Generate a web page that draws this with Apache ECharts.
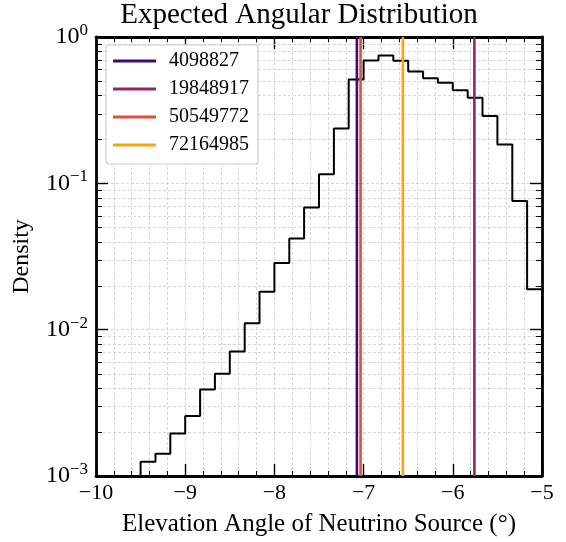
<!DOCTYPE html>
<html><head><meta charset="utf-8">
<script src="https://cdn.jsdelivr.net/npm/echarts@6/dist/echarts.min.js"></script>
<style>html,body{margin:0;padding:0;background:#fff}#c{width:566px;height:542px}</style>
</head><body><div id="c"></div>
<script>
// Histogram bin edges (degrees) and density per bin
const binEdges = [-9.500, -9.333, -9.167, -9.000, -8.833, -8.667, -8.500, -8.333, -8.167, -8.000,
  -7.833, -7.667, -7.500, -7.333, -7.167, -7.000, -6.833, -6.667, -6.500, -6.333,
  -6.167, -6.000, -5.833, -5.667, -5.500, -5.333, -5.167, -5.000];
const density = [0.00125, 0.00142, 0.00195, 0.00257, 0.00390, 0.00499, 0.00708, 0.01106, 0.01816,
  0.0285, 0.0420, 0.0683, 0.1152, 0.237, 0.512, 0.692, 0.746, 0.689, 0.580, 0.522,
  0.486, 0.433, 0.384, 0.288, 0.1845, 0.0757, 0.0189];
// Source lines
const sourceNames = ['4098827', '19848917', '50549772', '72164985'];
const sourceAngles = [-7.075, -5.758, -7.034, -6.56];
const sourceColors = ['#420a68', '#932667', '#dd513a', '#fca50a'];
// Axis ticks
const xTicks = [-10, -9, -8, -7, -6, -5];
const yTicks = [0.001, 0.01, 0.1, 1];
const yMinorTicks = [0.002, 0.003, 0.004, 0.005, 0.006, 0.007, 0.008, 0.009,
  0.02, 0.03, 0.04, 0.05, 0.06, 0.07, 0.08, 0.09,
  0.2, 0.3, 0.4, 0.5, 0.6, 0.7, 0.8, 0.9];

const FF = "'Liberation Serif', 'DejaVu Serif', serif";
const gridLine = {color: '#cccccc', width: 0.8, type: [3, 2]};
const frame = {show: true, onZero: false, lineStyle: {color: '#000', width: 2.8}};
const majorTick = {show: true, inside: true, length: 12, lineStyle: {color: '#000', width: 1.4}};
const minorTick = {show: true, splitNumber: 5, length: 5, lineStyle: {color: '#000', width: 1}};

const histData = [[binEdges[0], yTicks[0]]];
for (let i = 0; i < binEdges.length; i++) {
  const v = i < density.length ? density[i] : density[density.length - 1];
  histData.push([binEdges[i], v]);
}
histData.push([binEdges[binEdges.length - 1], yTicks[0]]);

const fmtMinus = v => (v < 0 ? '\u2212' : '') + Math.abs(v);

const series = [
  {
    type: 'custom', xAxisIndex: 0, yAxisIndex: 0, silent: true, z: 1, clip: false,
    data: yMinorTicks.map(v => [xTicks[0], v]),
    renderItem: (params, api) => {
      const p = api.coord([api.value(0), api.value(1)]);
      const cs = params.coordSys;
      const y = Math.round(p[1]) + 0.5;
      return {type: 'group', children: [
        {type: 'line', shape: {x1: cs.x + 2, y1: y, x2: cs.x + cs.width - 2, y2: y},
         style: {stroke: gridLine.color, lineWidth: gridLine.width, lineDash: [3, 2]}},
        {type: 'line', shape: {x1: cs.x, y1: y, x2: cs.x + 6, y2: y}, style: {stroke: '#000', lineWidth: 1}},
        {type: 'line', shape: {x1: cs.x + cs.width - 6, y1: y, x2: cs.x + cs.width, y2: y}, style: {stroke: '#000', lineWidth: 1}}
      ]};
    }
  },
  {
    type: 'line', name: 'hist', data: histData, step: 'end', symbol: 'none', z: 3,
    lineStyle: {color: '#000', width: 2}, itemStyle: {color: '#000'}, silent: true
  }
];
sourceNames.forEach((n, i) => {
  series.push({
    type: 'line', name: n, symbol: 'none', z: 4, silent: true,
    data: [[sourceAngles[i], yTicks[0]], [sourceAngles[i], yTicks[yTicks.length - 1]]],
    color: sourceColors[i],
    lineStyle: {color: sourceColors[i], width: 2.6},
    itemStyle: {color: sourceColors[i]}
  });
});

const chart = echarts.init(document.getElementById('c'), null, {renderer: 'canvas'});
chart.setOption({
  animation: false,
  backgroundColor: '#fff',
  title: {
    text: 'Expected Angular Distribution', left: 294, top: -4, textAlign: 'center',
    textStyle: {fontFamily: FF, fontSize: 29, fontWeight: 'normal', color: '#000'}
  },
  legend: {
    data: sourceNames, orient: 'vertical', left: 106, top: 45,
    padding: [6, 9, 9, 7], itemGap: 8, itemWidth: 43, itemHeight: 3, icon: 'rect',
    backgroundColor: '#fff', borderColor: '#cccccc', borderWidth: 1.2, borderRadius: 3,
    textStyle: {fontFamily: FF, fontSize: 20, color: '#000', lineHeight: 20, padding: [0, 0, 0, 8]}
  },
  grid: {left: 96, right: 24, top: 37, bottom: 65, containLabel: false},
  xAxis: [
    {
      type: 'value', min: -10, max: -5, interval: 1, position: 'bottom',
      axisLine: frame, axisTick: majorTick, minorTick: minorTick,
      splitLine: {show: true, lineStyle: gridLine},
      minorSplitLine: {show: true, lineStyle: gridLine},
      axisLabel: {formatter: fmtMinus, fontFamily: FF, fontSize: 22, color: '#000', margin: 6},
      name: 'Elevation Angle of Neutrino Source (°)', nameLocation: 'middle', nameGap: 36,
      nameTextStyle: {fontFamily: FF, fontSize: 25, color: '#000'}
    },
    {
      type: 'value', min: -10, max: -5, interval: 1, position: 'top',
      axisLine: frame, axisTick: majorTick, minorTick: minorTick,
      splitLine: {show: false}, axisLabel: {show: false}
    }
  ],
  yAxis: [
    {
      type: 'log', logBase: 10, min: 0.001, max: 1, position: 'left',
      axisLine: frame, axisTick: majorTick,
      splitLine: {show: true, lineStyle: gridLine},
      axisLabel: {
        margin: 8, color: '#000',
        formatter: v => {
          const e = Math.round(Math.log10(v));
          return '{b|10}{s|' + fmtMinus(e) + '}';
        },
        rich: {
          b: {fontFamily: FF, fontSize: 24, lineHeight: 30, color: '#000'},
          s: {fontFamily: FF, fontSize: 17, lineHeight: 17, verticalAlign: 'top', color: '#000'}
        }
      },
      name: 'Density', nameLocation: 'middle', nameGap: 62, nameRotate: 90,
      nameTextStyle: {fontFamily: FF, fontSize: 24, color: '#000'}
    },
    {
      type: 'log', logBase: 10, min: 0.001, max: 1, position: 'right',
      axisLine: frame, axisTick: majorTick,
      splitLine: {show: false}, axisLabel: {show: false}
    }
  ],
  series: series
});
</script>
</body></html>
